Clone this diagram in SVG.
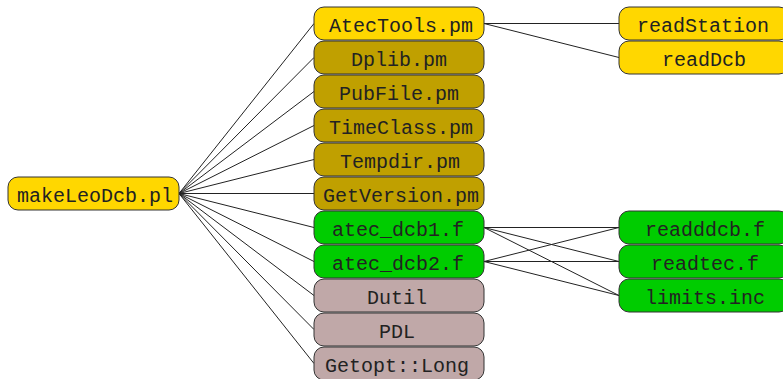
<svg xmlns="http://www.w3.org/2000/svg" width="783" height="379" viewBox="0 0 783 379">
<style>
.n rect{stroke:#333;stroke-width:1}
.n text{font-family:"Liberation Mono","Courier New",monospace;font-size:20px;fill:#222;text-anchor:middle}
.y rect{fill:#FFD700}
.o rect{fill:#C0A000}
.g rect{fill:#00CC00}
.m rect{fill:#C0A8A8}
#edges line{stroke:#222;stroke-width:1}
</style>
<rect width="783" height="379" fill="#fff"/>
<g id="edges">
<line x1="179" y1="193.5" x2="314" y2="23.5"/>
<line x1="179" y1="193.5" x2="314" y2="57.5"/>
<line x1="179" y1="193.5" x2="314" y2="91.5"/>
<line x1="179" y1="193.5" x2="314" y2="125.5"/>
<line x1="179" y1="193.5" x2="314" y2="159.5"/>
<line x1="179" y1="193.5" x2="314" y2="193.5"/>
<line x1="179" y1="193.5" x2="314" y2="227.5"/>
<line x1="179" y1="193.5" x2="314" y2="261.5"/>
<line x1="179" y1="193.5" x2="314" y2="295.5"/>
<line x1="179" y1="193.5" x2="314" y2="329.5"/>
<line x1="179" y1="193.5" x2="314" y2="363.5"/>
<line x1="484" y1="23.5" x2="619" y2="23.5"/>
<line x1="484" y1="23.5" x2="619" y2="57.5"/>
<line x1="484" y1="227.5" x2="619" y2="227.5"/>
<line x1="484" y1="227.5" x2="619" y2="261.5"/>
<line x1="484" y1="227.5" x2="619" y2="295.5"/>
<line x1="484" y1="261.5" x2="619" y2="227.5"/>
<line x1="484" y1="261.5" x2="619" y2="261.5"/>
<line x1="484" y1="261.5" x2="619" y2="295.5"/>
</g>
<g id="makeLeoDcb" class="n y"><rect x="8" y="177" width="171" height="33" rx="10"/><text x="95" y="201.5">makeLeoDcb.pl</text></g>
<g id="AtecTools" class="n y"><rect x="314" y="7" width="170" height="33" rx="10"/><text x="401" y="31.5">AtecTools.pm</text></g>
<g id="Dplib" class="n o"><rect x="314" y="41" width="170" height="33" rx="10"/><text x="399" y="65.5">Dplib.pm</text></g>
<g id="PubFile" class="n o"><rect x="314" y="75" width="170" height="33" rx="10"/><text x="399" y="99.5">PubFile.pm</text></g>
<g id="TimeClass" class="n o"><rect x="314" y="109" width="170" height="33" rx="10"/><text x="401" y="133.5">TimeClass.pm</text></g>
<g id="Tempdir" class="n o"><rect x="314" y="143" width="170" height="33" rx="10"/><text x="400" y="167.5">Tempdir.pm</text></g>
<g id="GetVersion" class="n o"><rect x="314" y="177" width="170" height="33" rx="10"/><text x="401" y="201.5">GetVersion.pm</text></g>
<g id="atec_dcb1" class="n g"><rect x="314" y="211" width="170" height="33" rx="10"/><text x="398" y="235.5">atec_dcb1.f</text></g>
<g id="atec_dcb2" class="n g"><rect x="314" y="245" width="170" height="33" rx="10"/><text x="398" y="269.5">atec_dcb2.f</text></g>
<g id="Dutil" class="n m"><rect x="314" y="279" width="170" height="33" rx="10"/><text x="397" y="303.5">Dutil</text></g>
<g id="PDL" class="n m"><rect x="314" y="313" width="170" height="33" rx="10"/><text x="397" y="337.5">PDL</text></g>
<g id="Getopt" class="n m"><rect x="314" y="347" width="170" height="33" rx="10"/><text x="397" y="371.5">Getopt::Long</text></g>
<g id="readStation" class="n y"><rect x="619" y="7" width="170" height="33" rx="10"/><text x="703" y="31.5">readStation</text></g>
<g id="readDcb" class="n y"><rect x="619" y="41" width="170" height="33" rx="10"/><text x="704" y="65.5">readDcb</text></g>
<g id="readddcb" class="n g"><rect x="619" y="211" width="170" height="33" rx="10"/><text x="705" y="235.5">readddcb.f</text></g>
<g id="readtec" class="n g"><rect x="619" y="245" width="170" height="33" rx="10"/><text x="705" y="269.5">readtec.f</text></g>
<g id="limits" class="n g"><rect x="619" y="279" width="170" height="33" rx="10"/><text x="705" y="303.5">limits.inc</text></g>
</svg>
